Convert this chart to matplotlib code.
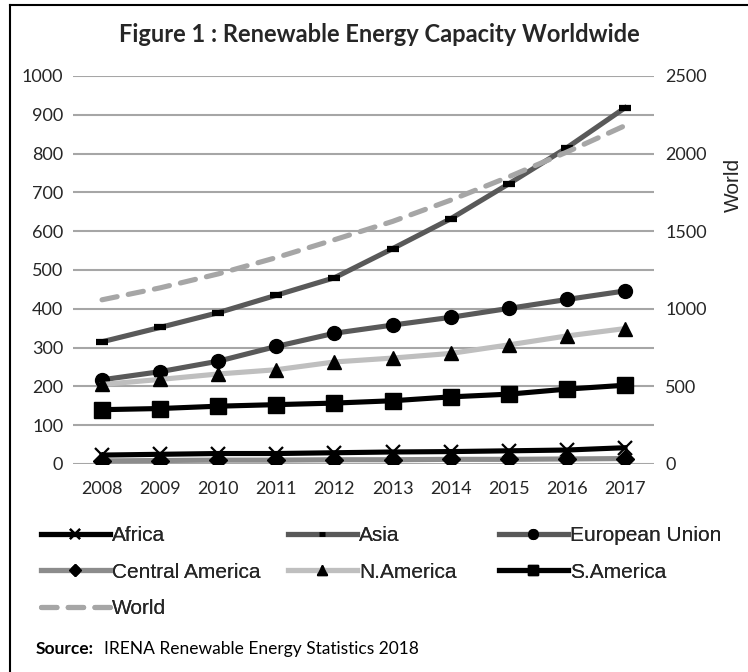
import matplotlib
matplotlib.use('Agg')
import matplotlib.pyplot as plt
from matplotlib.lines import Line2D

# datos
years = [2008, 2009, 2010, 2011, 2012, 2013, 2014, 2015, 2016, 2017]
africa = [23, 25, 27, 27, 29, 31, 32, 34, 36, 42]
asia = [315, 352, 390, 435, 480, 555, 632, 722, 815, 918]
eu = [217, 238, 265, 303, 337, 358, 378, 401, 424, 446]
central_america = [8, 9, 10, 10, 11, 11, 12, 12, 13, 14]
n_america = [205, 218, 232, 243, 263, 273, 285, 307, 330, 349]
s_america = [140, 143, 149, 153, 157, 163, 173, 180, 193, 203]
world = [1058, 1135, 1225, 1330, 1445, 1563, 1700, 1850, 2010, 2180]

left_ticks = [0, 100, 200, 300, 400, 500, 600, 700, 800, 900, 1000]
right_ticks = [0, 500, 1000, 1500, 2000, 2500]

W, H = 748, 672
txt_col = '#262626'
tick_font = 'Lato'
leg_font = 'Liberation Sans'

fig = plt.figure(figsize=(W / 100, H / 100), dpi=100)
ax = fig.add_axes([73 / W, 1 - 464 / H, (654 - 73) / W, (464 - 76) / H])
ax2 = ax.twinx()

lw = 3.7
styles = {
    'Africa': dict(color='black', lw=lw, marker='x', ms=10, mew=1.6, mec='black'),
    'Asia': dict(color='#595959', lw=lw, marker='_', ms=8, mew=4.5, mec='black'),
    'European Union': dict(color='#595959', lw=lw, marker='o', ms=10, mfc='black', mec='black'),
    'Central America': dict(color='#8c8c8c', lw=lw, marker='D', ms=9, mfc='black', mec='black'),
    'N.America': dict(color='#bfbfbf', lw=lw, marker='^', ms=10, mfc='black', mec='black'),
    'S.America': dict(color='black', lw=lw, marker='s', ms=11, mfc='black', mec='black'),
    'World': dict(color='#a6a6a6', lw=lw, linestyle=(0, (3, 2.2)), dash_capstyle='round'),
}

series = [('Africa', africa), ('Asia', asia), ('European Union', eu),
          ('Central America', central_america), ('N.America', n_america),
          ('S.America', s_america)]
for name, vals in series:
    ax.plot(years, vals, label=name, **styles[name])
ax2.plot(years, world, label='World', **styles['World'])

# handles mas pequenos para la leyenda
handles = {}
for name, st in styles.items():
    st = dict(st)
    if 'ms' in st:
        st['ms'] = st['ms'] * 0.7
    if name == 'Asia':
        st['ms'] = 5
        st['mew'] = 3.5
    handles[name] = Line2D([], [], **st)

ax.set_xlim(2007.5, 2017.5)
ax.set_ylim(0, 1000)
ax2.set_ylim(0, 2500)
ax.set_yticks(left_ticks)
ax2.set_yticks(right_ticks)
ax.set_xticks(years)
ax.grid(axis='y', color='#a6a6a6', lw=1.5)
ax.set_axisbelow(True)
for a in (ax, ax2):
    for s in a.spines.values():
        s.set_visible(False)
    a.tick_params(length=0, labelsize=13, labelcolor=txt_col)
    for lab in a.get_xticklabels() + a.get_yticklabels():
        lab.set_fontfamily(tick_font)
ax.tick_params(axis='y', pad=7)
ax.tick_params(axis='x', pad=12)
ax2.tick_params(axis='y', pad=8)

ax2.set_ylabel('World', fontsize=15, family=leg_font, color=txt_col)
ax2.yaxis.set_label_coords(1.12, 0.72)

fig.text(0.507, 1 - 34 / H, 'Figure 1 : Renewable Energy Capacity Worldwide',
         ha='center', va='center', fontsize=17, fontweight='bold',
         family=tick_font, color=txt_col)

# leyenda en tres columnas separadas
cols = [(['Africa', 'Central America', 'World'], 41),
        (['Asia', 'N.America'], 288),
        (['European Union', 'S.America'], 499)]
for names, xpx in cols:
    leg = fig.legend([handles[n] for n in names], names, loc='upper left',
                     bbox_to_anchor=(xpx / W, 1 - 526 / H), frameon=False,
                     borderpad=0, borderaxespad=0, handlelength=3.3,
                     handletextpad=0.1, labelspacing=0.85, numpoints=1,
                     prop={'family': leg_font, 'size': 15})
    for t in leg.get_texts():
        t.set_color(txt_col)
    fig.add_artist(leg)

fig.text(36 / W, 1 - 649 / H, 'Source:', fontsize=12.5, fontweight='bold',
         family=tick_font, color='black', va='center')
fig.text(104 / W, 1 - 649 / H, 'IRENA Renewable Energy Statistics 2018', fontsize=12.5,
         family=tick_font, color='black', va='center')

# marco de la figura
fig.add_artist(Line2D([10 / W, 10 / W], [0, 1 - 5 / H], color='black', lw=1.5))
fig.add_artist(Line2D([10 / W, 1], [1 - 5 / H, 1 - 5 / H], color='black', lw=1.5))

fig.savefig('out.png', dpi=100)
